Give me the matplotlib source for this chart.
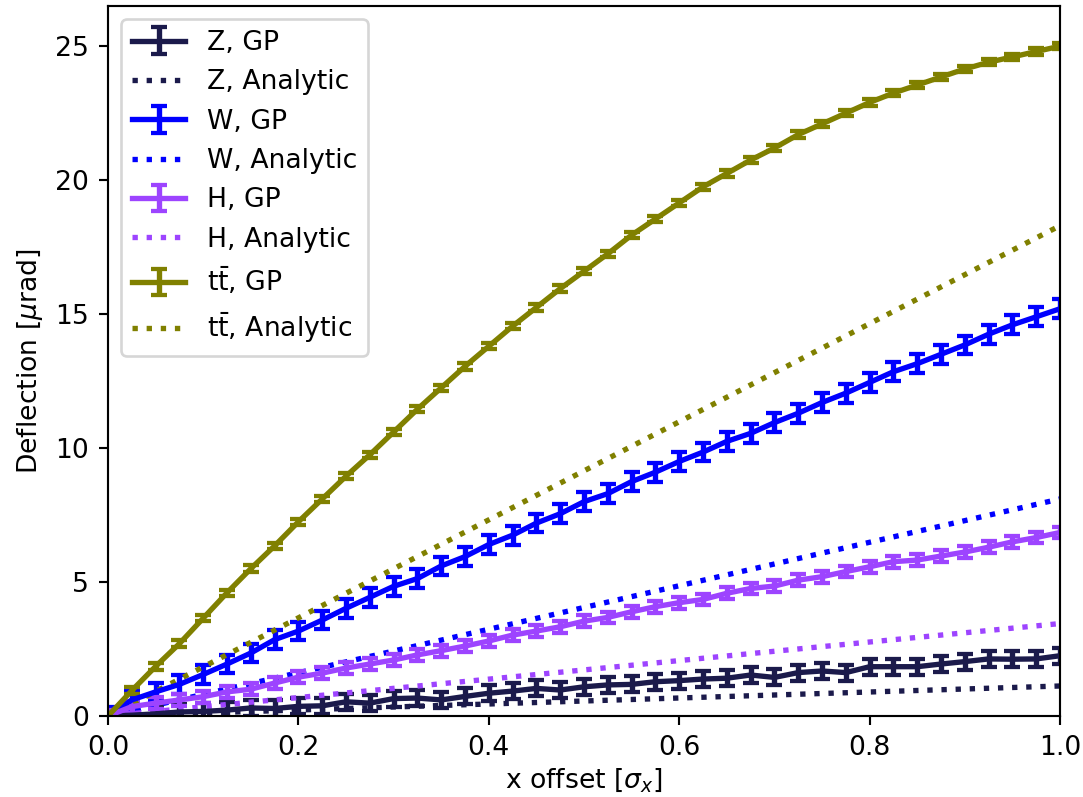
import numpy as np
import matplotlib
matplotlib.use("Agg")
import matplotlib.pyplot as plt

x_gp = [i * 0.025 for i in range(41)]

z_gp = [0.0, 0.03, 0.08, 0.15, 0.17, 0.22, 0.30, 0.28, 0.36, 0.38, 0.53, 0.48, 0.65, 0.67,
        0.60, 0.73, 0.85, 0.93, 1.03, 0.97, 1.09, 1.16, 1.18, 1.28, 1.32, 1.38, 1.41, 1.53,
        1.44, 1.62, 1.68, 1.62, 1.84, 1.84, 1.84, 1.94, 2.03, 2.13, 2.12, 2.13, 2.25]
z_err = [0.30] * 41

w_gp = [0.0, 0.60, 0.90, 1.18, 1.55, 1.94, 2.35, 2.85, 3.17, 3.58, 4.02, 4.43, 4.84, 5.13,
        5.60, 5.95, 6.40, 6.75, 7.20, 7.55, 8.00, 8.30, 8.75, 9.10, 9.50, 9.85, 10.25, 10.55,
        10.95, 11.30, 11.70, 12.05, 12.45, 12.85, 13.15, 13.50, 13.85, 14.25, 14.60, 14.90, 15.20]
w_err = [0.35] * 41

h_gp = [0.0, 0.35, 0.48, 0.60, 0.72, 0.90, 1.00, 1.23, 1.45, 1.60, 1.79, 1.94, 2.09, 2.28,
        2.44, 2.61, 2.80, 3.02, 3.17, 3.33, 3.54, 3.68, 3.89, 4.08, 4.23, 4.35, 4.58, 4.76,
        4.85, 5.07, 5.20, 5.39, 5.57, 5.76, 5.82, 5.97, 6.12, 6.30, 6.50, 6.66, 6.85]
h_err = [0.22] * 41

tt_gp = [0.0, 0.95, 1.85, 2.70, 3.65, 4.60, 5.50, 6.35, 7.25, 8.10, 8.95, 9.75, 10.60, 11.45,
         12.25, 13.05, 13.80, 14.55, 15.25, 15.95, 16.60, 17.25, 17.95, 18.55, 19.15, 19.75,
         20.25, 20.75, 21.20, 21.70, 22.10, 22.50, 22.90, 23.25, 23.55, 23.85, 24.15, 24.40,
         24.60, 24.80, 25.00]
tt_err = [0.12] * 41

x_an = [0.0, 0.25, 0.5, 0.75, 1.0]
z_an = [0.0, 0.28, 0.56, 0.84, 1.12]
w_an = [0.0, 2.02, 4.05, 6.08, 8.10]
h_an = [0.0, 0.86, 1.72, 2.59, 3.45]
tt_an = [0.0, 4.58, 9.15, 13.73, 18.30]

labels = ["Z", "W", "H", r"t$\bar{\mathrm{t}}$"]
colors = ["#1b1a4b", "#0000ff", "#9d44ff", "#808000"]

dpi = 192
fig = plt.figure(figsize=(1083 / dpi, 797 / dpi), dpi=dpi)
ax = fig.add_axes([108 / 1083, 1 - 716 / 797, (1060 - 108) / 1083, (716 - 6) / 797])

series = [(z_gp, z_err, z_an), (w_gp, w_err, w_an), (h_gp, h_err, h_an), (tt_gp, tt_err, tt_an)]
handles = []
for (gp, err, an), lab, col in zip(series, labels, colors):
    h1 = ax.errorbar(x_gp, gp, yerr=err, color=col, lw=2, elinewidth=2, capsize=3, capthick=1.6,
                     label=f"{lab}, GP")
    h2, = ax.plot(x_an, an, ":", color=col, lw=2, label=f"{lab}, Analytic")
    handles += [h1, h2]

ax.set_xlim(0, 1)
ax.set_ylim(0, 26.5)
ax.set_xlabel(r"x offset [$\sigma_x$]", labelpad=2)
ax.set_ylabel(r"Deflection [$\mu$rad]")
ax.legend(handles=handles, labels=[h.get_label() for h in handles], loc="upper left")

fig.savefig("out.png", dpi=dpi)
